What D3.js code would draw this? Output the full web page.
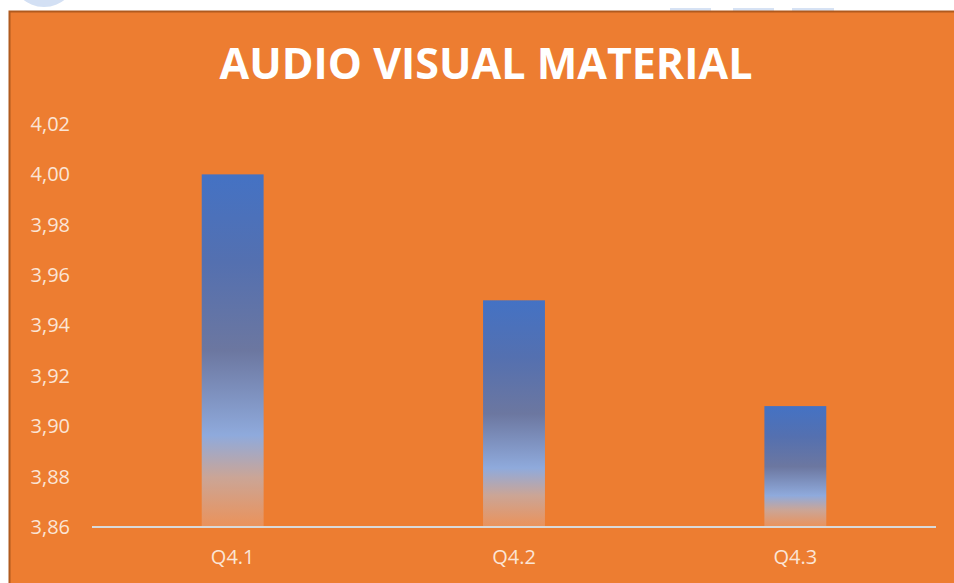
<!DOCTYPE html>
<html>
<head>
<meta charset="utf-8">
<script src="https://cdn.jsdelivr.net/npm/d3@7"></script>
<style>
  html, body { margin: 0; padding: 0; background: #fff; }
  svg { display: block; }
</style>
</head>
<body>
<svg width="954" height="583"></svg>
<script>
var width = 954;
var height = 583;

// chart data
var categories = ['Q4.1', 'Q4.2', 'Q4.3'];
var values = [4.00, 3.95, 3.908];
var yTicks = [3.86, 3.88, 3.90, 3.92, 3.94, 3.96, 3.98, 4.00, 4.02];

var margin = { left: 92, right: 18, top: 124, bottom: 56 };

var svg = d3.select('svg');
var commaFormat = d3.formatLocale({ decimal: ',', thousands: '.', grouping: [3], currency: ['', ''] }).format('.2f');

// bits of the page behind the chart
svg.append('circle').attr('cx', 44).attr('cy', -26).attr('r', 33).attr('fill', '#d3e0f4');
[[670, 711], [733, 774], [792, 834]].forEach(function(r) {
  svg.append('rect').attr('x', r[0]).attr('y', 8).attr('width', r[1] - r[0]).attr('height', 3).attr('fill', '#d6e2f4');
});

// orange chart area
svg.append('rect')
  .attr('x', 9.5).attr('y', 11.5)
  .attr('width', width + 20).attr('height', height + 20)
  .attr('fill', '#ed7d31')
  .attr('stroke', '#b05a1e')
  .attr('stroke-width', 2);

var defs = svg.append('defs');
var grad = defs.append('linearGradient')
  .attr('id', 'barGrad')
  .attr('x1', 0).attr('y1', 0).attr('x2', 0).attr('y2', 1);
[
  ['0%', '#4472c4'],
  ['25%', '#5470b0'],
  ['50%', '#6c77a0'],
  ['74%', '#8faadc'],
  ['86%', '#cba596'],
  ['100%', '#eb925a']
].forEach(function(s) {
  grad.append('stop').attr('offset', s[0]).attr('stop-color', s[1]);
});

var x = d3.scaleBand()
  .domain(categories)
  .range([margin.left, width - margin.right])
  .paddingInner(0.78)
  .paddingOuter(0.39);

var y = d3.scaleLinear()
  .domain([3.86, 4.02])
  .range([height - margin.bottom, margin.top]);

// title
svg.append('text')
  .attr('x', 486)
  .attr('y', 79)
  .attr('text-anchor', 'middle')
  .attr('font-family', 'Open Sans')
  .attr('font-weight', 'bold')
  .attr('font-size', '43px')
  .attr('fill', '#ffffff')
  .text('AUDIO VISUAL MATERIAL');

// bars
svg.append('g').selectAll('rect').data(values).enter()
  .append('rect')
  .attr('x', function(d, i) { return x(categories[i]); })
  .attr('y', function(d) { return y(d); })
  .attr('width', x.bandwidth())
  .attr('height', function(d) { return y(3.86) - y(d); })
  .attr('fill', 'url(#barGrad)');

// y axis labels
var yAxis = d3.axisLeft(y).tickValues(yTicks).tickFormat(commaFormat).tickSize(0).tickPadding(0);
var yg = svg.append('g').attr('transform', 'translate(70,0)').call(yAxis);
yg.select('.domain').remove();
yg.selectAll('text')
  .attr('font-family', 'Open Sans')
  .attr('font-size', '20px')
  .attr('fill', '#fbe5d6');

// x axis
var xAxis = d3.axisBottom(x).tickSize(0).tickPadding(23);
var xg = svg.append('g').attr('transform', 'translate(0,' + y(3.86) + ')').call(xAxis);
xg.select('.domain')
  .attr('d', 'M' + margin.left + ',0H' + (width - margin.right))
  .attr('stroke', '#d9d9d9')
  .attr('stroke-width', 2);
xg.selectAll('text')
  .attr('font-family', 'Open Sans')
  .attr('font-size', '20px')
  .attr('fill', '#fbe5d6');
</script>
</body>
</html>
